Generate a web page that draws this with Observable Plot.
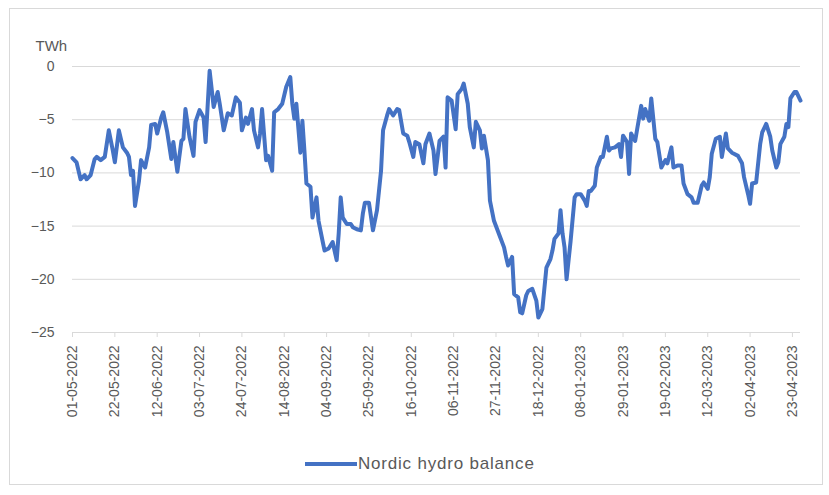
<!DOCTYPE html>
<html>
<head>
<meta charset="utf-8">
<script src="https://cdn.jsdelivr.net/npm/d3@7"></script>
<script src="https://cdn.jsdelivr.net/npm/@observablehq/plot@0.6"></script>
<style>
  html, body { margin: 0; padding: 0; background: #fff; }
  #chart { position: relative; width: 829px; height: 495px; font-family: "Liberation Sans", Arial, sans-serif; }
  #frame { position: absolute; left: 9px; top: 8px; width: 812px; height: 475px; border: 1px solid #d9d9d9; pointer-events: none; }
  #legend { position: absolute; left: 305px; top: 454px; display: flex; align-items: center; color: #595959; font-size: 17px; letter-spacing: 0.8px; }
  #legend .swatch { width: 52px; height: 4px; background: #4472C4; margin-right: 1px; }
</style>
</head>
<body>
<div id="chart">
  <div id="plot"></div>
  <div id="frame"></div>
  <div id="legend"><span class="swatch"></span><span>Nordic hydro balance</span></div>
</div>
<script>
// Nordic hydro balance, TWh
const dates = [
  "2022-05-01","2022-05-03","2022-05-05","2022-05-07","2022-05-08","2022-05-10","2022-05-12","2022-05-13","2022-05-15","2022-05-17",
  "2022-05-19","2022-05-21","2022-05-22","2022-05-24","2022-05-26","2022-05-28","2022-05-29","2022-05-30","2022-05-31","2022-06-01",
  "2022-06-03","2022-06-04","2022-06-06","2022-06-08","2022-06-09","2022-06-11","2022-06-12","2022-06-14","2022-06-15","2022-06-17",
  "2022-06-19","2022-06-20","2022-06-22","2022-06-24","2022-06-25","2022-06-26","2022-06-28","2022-06-30","2022-07-01","2022-07-03",
  "2022-07-05","2022-07-06","2022-07-08","2022-07-10","2022-07-12","2022-07-13","2022-07-15","2022-07-17","2022-07-19","2022-07-21",
  "2022-07-23","2022-07-24","2022-07-26","2022-07-27","2022-07-29","2022-07-30","2022-08-01","2022-08-02","2022-08-03","2022-08-05",
  "2022-08-06","2022-08-08","2022-08-09","2022-08-11","2022-08-13","2022-08-15","2022-08-17","2022-08-18","2022-08-19","2022-08-20",
  "2022-08-22","2022-08-23","2022-08-24","2022-08-25","2022-08-27","2022-08-28","2022-08-30","2022-08-31","2022-09-02","2022-09-03",
  "2022-09-05","2022-09-07","2022-09-09","2022-09-10","2022-09-11","2022-09-12","2022-09-14","2022-09-16","2022-09-17","2022-09-19",
  "2022-09-21","2022-09-22","2022-09-23","2022-09-25","2022-09-27","2022-09-29","2022-10-01","2022-10-02","2022-10-04","2022-10-05",
  "2022-10-07","2022-10-09","2022-10-10","2022-10-12","2022-10-14","2022-10-15","2022-10-17","2022-10-18","2022-10-20","2022-10-22",
  "2022-10-23","2022-10-25","2022-10-27","2022-10-28","2022-10-30","2022-11-01","2022-11-02","2022-11-03","2022-11-05","2022-11-07",
  "2022-11-08","2022-11-10","2022-11-11","2022-11-13","2022-11-14","2022-11-16","2022-11-17","2022-11-19","2022-11-20","2022-11-21",
  "2022-11-23","2022-11-24","2022-11-26","2022-11-29","2022-12-01","2022-12-02","2022-12-03","2022-12-05","2022-12-06","2022-12-08",
  "2022-12-09","2022-12-10","2022-12-12","2022-12-13","2022-12-15","2022-12-17","2022-12-18","2022-12-20","2022-12-22","2022-12-24",
  "2022-12-25","2022-12-26","2022-12-28","2022-12-29","2022-12-30","2022-12-31","2023-01-01","2023-01-03","2023-01-05","2023-01-06",
  "2023-01-08","2023-01-10","2023-01-11","2023-01-12","2023-01-13","2023-01-15","2023-01-16","2023-01-18","2023-01-19","2023-01-21",
  "2023-01-22","2023-01-23","2023-01-25","2023-01-27","2023-01-28","2023-01-29","2023-01-31","2023-02-01","2023-02-02","2023-02-04",
  "2023-02-05","2023-02-07","2023-02-08","2023-02-09","2023-02-11","2023-02-12","2023-02-14","2023-02-15","2023-02-17","2023-02-19",
  "2023-02-20","2023-02-22","2023-02-23","2023-02-25","2023-02-27","2023-02-28","2023-03-02","2023-03-04","2023-03-05","2023-03-07",
  "2023-03-09","2023-03-10","2023-03-12","2023-03-13","2023-03-14","2023-03-16","2023-03-18","2023-03-19","2023-03-21","2023-03-22",
  "2023-03-24","2023-03-25","2023-03-27","2023-03-29","2023-03-30","2023-04-01","2023-04-02","2023-04-03","2023-04-05","2023-04-07",
  "2023-04-08","2023-04-10","2023-04-12","2023-04-13","2023-04-15","2023-04-16","2023-04-17","2023-04-19","2023-04-20","2023-04-21",
  "2023-04-22","2023-04-24","2023-04-25","2023-04-27"
];

const balance = [
  -8.6, -9.0, -10.6, -10.2, -10.6, -10.2, -8.7, -8.5, -8.8, -8.5,
  -6.0, -7.9, -9.0, -6.0, -7.6, -8.1, -8.5, -10.2, -9.8, -13.1,
  -10.7, -8.8, -9.5, -7.6, -5.5, -5.4, -6.3, -4.8, -4.3, -6.2,
  -8.7, -7.1, -9.9, -7.0, -6.8, -4.0, -6.6, -8.4, -5.2, -4.1,
  -4.8, -7.1, -0.4, -3.8, -2.4, -3.5, -6.0, -4.4, -4.6, -2.9,
  -3.4, -6.0, -4.8, -5.4, -4.0, -6.0, -7.6, -6.3, -4.0, -8.8,
  -8.4, -9.8, -4.3, -4.0, -3.5, -1.9, -1.0, -3.5, -4.9, -3.5,
  -8.1, -5.1, -7.9, -11.0, -11.3, -14.2, -12.3, -14.5, -16.4, -17.3,
  -17.1, -16.5, -18.2, -15.7, -12.3, -14.2, -14.8, -14.8, -15.1, -15.3,
  -15.4, -13.8, -12.8, -12.8, -15.4, -13.5, -9.8, -6.0, -4.6, -4.0,
  -4.6, -4.0, -4.1, -6.3, -6.5, -7.1, -8.5, -7.1, -7.3, -9.1,
  -7.3, -6.3, -7.9, -10.1, -7.0, -6.6, -9.5, -2.9, -3.2, -5.9,
  -2.6, -2.1, -1.6, -3.5, -5.7, -7.6, -5.2, -6.0, -7.7, -6.5,
  -8.8, -12.6, -14.5, -16.0, -17.0, -17.9, -18.7, -17.9, -21.4, -21.7,
  -23.1, -23.2, -21.5, -21.1, -20.9, -22.0, -23.6, -22.8, -18.9, -18.1,
  -17.3, -16.2, -15.7, -13.5, -15.7, -17.0, -20.0, -16.4, -12.3, -12.0,
  -12.0, -12.6, -13.1, -11.7, -11.7, -11.2, -9.5, -8.5, -8.5, -6.6,
  -7.9, -7.7, -7.6, -7.3, -8.5, -6.5, -7.1, -10.1, -6.3, -7.0,
  -5.9, -3.7, -4.9, -4.0, -5.1, -3.0, -6.8, -7.1, -9.5, -8.8,
  -9.1, -7.6, -9.5, -9.3, -9.3, -11.0, -12.0, -12.3, -12.8, -12.8,
  -11.2, -10.9, -11.5, -10.4, -8.2, -6.8, -6.6, -8.5, -6.3, -7.7,
  -8.1, -8.2, -8.4, -9.1, -10.4, -12.0, -12.9, -11.0, -10.9, -7.3,
  -6.2, -5.4, -6.6, -7.9, -9.5, -9.0, -7.3, -6.6, -5.4, -5.7,
  -3.0, -2.4, -2.4, -3.2
];

// Axis ticks: every three weeks on x, every 5 TWh on y
const xTicks = [
  "2022-05-01","2022-05-22","2022-06-12","2022-07-03","2022-07-24","2022-08-14",
  "2022-09-04","2022-09-25","2022-10-16","2022-11-06","2022-11-27","2022-12-18",
  "2023-01-08","2023-01-29","2023-02-19","2023-03-12","2023-04-02","2023-04-23"
];
const yTicks = [0, -5, -10, -15, -20, -25];
const xDomain = ["2022-05-01", "2023-04-27"];

const data = dates.map((d, i) => ({date: new Date(d), value: balance[i]}));
const fmt = d3.utcFormat("%d-%m-%Y");

const chart = Plot.plot({
  width: 829,
  height: 445,
  marginTop: 66,
  marginLeft: 72,
  marginRight: 29,
  marginBottom: 113,
  x: {type: "utc", domain: xDomain.map(d => new Date(d))},
  y: {domain: [-25, 0]},
  style: {fontFamily: "'Liberation Sans', Arial, sans-serif", fontSize: "14px", color: "#595959", background: "white", overflow: "visible"},
  marks: [
    Plot.gridY(yTicks, {stroke: "#d9d9d9", strokeOpacity: 1}),
    Plot.axisY(yTicks, {tickSize: 0, tickPadding: 18, label: null}),
    Plot.axisX(xTicks.map(d => new Date(d)), {
      tickRotate: -90, tickSize: 5, tickPadding: 8, stroke: "#d9d9d9",
      tickFormat: fmt, label: null
    }),
    Plot.line(data, {x: "date", y: "value", stroke: "#4472C4", strokeWidth: 4, strokeLinejoin: "round", strokeLinecap: "round"}),
    Plot.text(["TWh"], {frameAnchor: "top-left", dx: -37, dy: -26, textAnchor: "start", fontSize: 15, fill: "#595959"})
  ]
});

document.getElementById("plot").appendChild(chart);
</script>
</body>
</html>
